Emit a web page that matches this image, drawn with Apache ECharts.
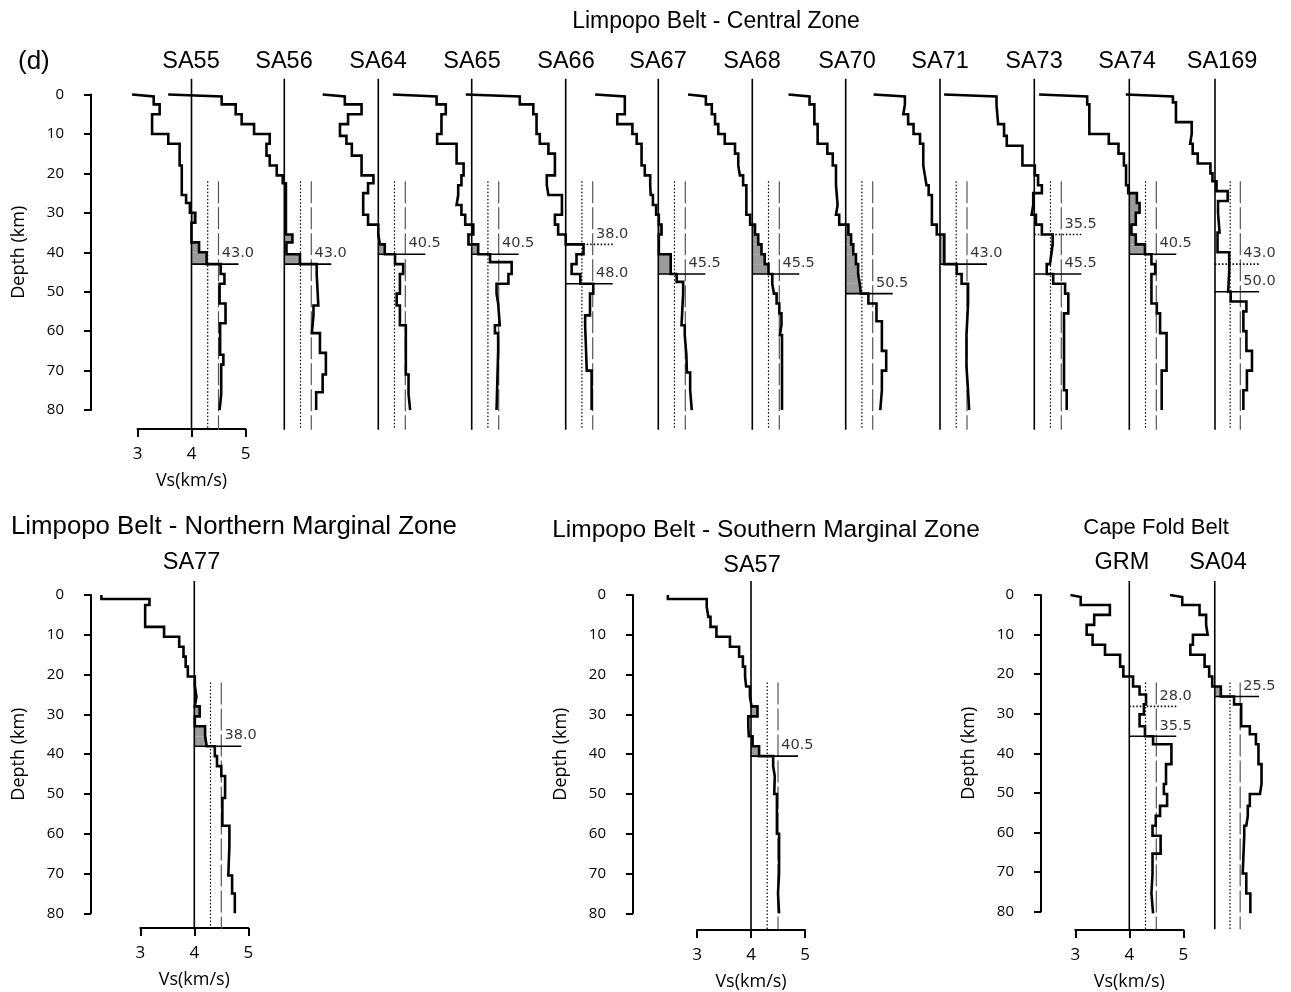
<!DOCTYPE html>
<html><head><meta charset="utf-8">
<script src="https://cdn.jsdelivr.net/npm/echarts@6/dist/echarts.min.js"></script>
<style>html,body{margin:0;padding:0;background:#fff}#c{width:1291px;height:992px}</style>
</head><body><div id="c"></div>
<script>
// ---------------- DATA ----------------
const topStations = ['SA55','SA56','SA64','SA65','SA66','SA67','SA68','SA70','SA71','SA73','SA74','SA169'];
const topMoho     = [43.0, 43.0, 40.5, 40.5, 48.0, 45.5, 45.5, 50.5, 43.0, 45.5, 40.5, 50.0];
const topAltMoho  = [null, null, null, null, 38.0, null, null, null, null, 35.5, null, 43.0];
const topShaded   = [true, true, true, true, false, true, true, true, true, false, true, false];
const botStations = ['SA77','SA57','GRM','SA04'];
const botMoho     = [38.0, 40.5, 35.5, 25.5];
const botAltMoho  = [null, null, 28.0, null];
const botShaded   = [true, true, false, true];
const vsTicks = [3, 4, 5];
const depthTicks = [0, 10, 20, 30, 40, 50, 60, 70, 80];
const refVs = 4.0, refDotted = 4.3, refDashed = 4.5;
// layer tops (km) and Vs (km/s); each layer continues to the next top, last one to 80 km
const SA55 = [[0,2.90],[0.5,3.30],[2.5,3.41],[5,3.27],[10,3.57],[12.5,3.78],[18,3.82],[25.5,3.90],[27.5,3.97],[30,4.07],[32.5,4.00],[37.5,4.14],[40,4.28],[43,4.54],[45.5,4.61],[48,4.52],[53,4.63],[58,4.53],[66,4.59],[68.5,4.55],[76,4.52]];
const SA56 = [[0,1.85],[0.5,2.84],[2.5,3.10],[5,3.21],[7.5,3.44],[10,3.73],[12.5,3.67],[15.5,3.73],[18,3.86],[20.5,3.97],[22.5,4.03],[35.5,4.15],[37.5,4.04],[40.5,4.29],[43,4.60],[45.5,4.63],[53.5,4.54],[56,4.51],[60.5,4.66],[65.5,4.77],[71,4.71],[75.5,4.59]];
const SA64 = [[0,2.97],[0.5,3.38],[2.5,3.69],[5,3.44],[7.5,3.29],[10.5,3.41],[12.5,3.51],[15.5,3.69],[20.5,3.91],[22.5,3.81],[25,3.72],[30.5,3.81],[33,4.00],[35.5,4.03],[38,4.12],[40.5,4.31],[43,4.46],[45.5,4.40],[50.5,4.34],[53.5,4.40],[58.5,4.51],[71,4.56],[76,4.59]];
const SA65 = [[0,2.54],[0.5,3.35],[2.5,3.52],[5,3.44],[10,3.36],[12.5,3.72],[17.5,3.85],[20.5,3.81],[23,3.75],[25.5,3.72],[28,3.81],[30.5,3.88],[33,4.03],[35.5,3.94],[38,4.12],[40.5,4.34],[42.5,4.74],[45.5,4.68],[48,4.46],[50.5,4.49],[53,4.52],[58.5,4.43],[60.5,4.49],[65,4.46]];
const SA66 = [[0,2.15],[0.5,3.15],[2.5,3.40],[5,3.46],[10,3.52],[12.5,3.68],[15,3.80],[20.5,3.65],[23,3.68],[25.5,3.93],[30.5,3.80],[33,3.86],[35.5,4.00],[38,4.33],[40.5,4.20],[43,4.11],[45.5,4.27],[48,4.51],[50.5,4.45],[56,4.36],[58.5,4.39],[70,4.48]];
const SA67 = [[0,2.83],[0.5,3.38],[5,3.24],[7.5,3.52],[10,3.60],[12.5,3.69],[18,3.75],[20.5,3.85],[23,3.86],[25.5,3.90],[28,3.96],[30.5,4.01],[33,4.06],[35.5,4.01],[40.5,4.23],[45.5,4.34],[47.5,4.46],[50.5,4.43],[58.5,4.49],[61,4.52],[66,4.53],[70.5,4.59],[75,4.62]];
const SA68 = [[0,2.81],[0.5,3.14],[2.5,3.25],[5,3.31],[7.5,3.37],[10,3.49],[12.5,3.68],[15,3.74],[18,3.77],[20.5,3.83],[23,3.89],[30.5,3.96],[33,4.05],[35.5,4.11],[38,4.17],[40.5,4.23],[43,4.30],[45.5,4.37],[48,4.40],[50.5,4.45],[53,4.50],[55.5,4.54],[58.5,4.51],[61,4.55]];
const SA70 = [[0,2.94],[0.5,3.33],[2.5,3.42],[7.5,3.48],[12.5,3.66],[15,3.76],[18,3.82],[23,3.85],[28,3.82],[30.5,3.88],[33,4.05],[35.5,4.10],[38,4.14],[40.5,4.19],[43,4.23],[45.5,4.26],[48,4.28],[50.5,4.42],[53,4.57],[57.5,4.67],[65,4.75],[70,4.67],[75,4.64]];
const SA71 = [[0,2.77],[0.5,3.35],[2.5,3.32],[5,3.41],[7.5,3.51],[10,3.63],[12.5,3.69],[18,3.72],[20.5,3.75],[23,3.79],[25.5,3.85],[33,3.94],[35.5,4.08],[43,4.31],[45.5,4.40],[48,4.52],[53,4.49],[61,4.49],[69,4.51],[73,4.54]];
const SA73 = [[0,2.33],[0.5,3.30],[2.5,3.33],[7.5,3.44],[10.5,3.49],[13,3.78],[18,4.01],[20.5,4.07],[23,4.14],[25,3.98],[28,3.95],[30.5,4.03],[33,4.14],[35.5,4.34],[38,4.32],[40,4.29],[43,4.23],[45.5,4.35],[48,4.57],[50.5,4.63],[55.5,4.55],[75,4.60]];
const SA74 = [[0,2.33],[0.5,3.22],[2.5,3.26],[10,3.62],[12.5,3.80],[15,3.90],[18,3.94],[23,3.98],[25,4.14],[27.5,4.19],[30,4.12],[33,4.04],[35.5,4.12],[38,4.29],[40.5,4.41],[43,4.48],[45.5,4.41],[53,4.51],[55.5,4.57],[60.5,4.69],[70,4.60]];
const SA169 = [[0,2.24],[0.5,3.17],[2,3.23],[7,3.54],[10,3.51],[12.5,3.56],[15,3.66],[17.5,3.91],[20,3.95],[22,4.03],[24.5,4.25],[27,4.06],[30,4.09],[35,4.05],[40,4.28],[45,4.26],[50,4.31],[52.5,4.62],[55,4.56],[60,4.62],[65,4.73],[70,4.63],[75,4.56]];
const SA77 = [[0,2.28],[1,3.17],[2.5,3.09],[8,3.44],[10.5,3.72],[13,3.80],[15.5,3.84],[18,3.88],[20.5,4.01],[23,4.04],[25.5,4.01],[28,4.10],[30.5,4.01],[33,4.20],[35.5,4.23],[38,4.38],[40.5,4.42],[43,4.50],[45.5,4.57],[51,4.52],[58,4.65],[63,4.63],[70.5,4.70],[75,4.75]];
const SA57 = [[0,2.46],[1,3.18],[3,3.21],[5.5,3.25],[8,3.36],[10.5,3.61],[13,3.78],[15.5,3.85],[18,3.89],[20.5,3.91],[23,3.98],[25.5,4.01],[28,4.12],[30.5,3.95],[33,3.96],[35.5,4.03],[38,4.15],[40.5,4.41],[43,4.44],[45.5,4.43],[50,4.48],[55.5,4.48],[60,4.52],[65,4.52],[70,4.50],[75,4.52]];
const GRM = [[0,2.91],[0.5,3.10],[2.5,3.64],[5,3.35],[7.5,3.21],[10,3.32],[12.5,3.55],[15,3.83],[18,3.89],[20.5,4.07],[23,4.19],[25,4.31],[27.5,4.27],[30,4.19],[33,4.29],[35.5,4.44],[37.5,4.78],[42.5,4.68],[47.5,4.64],[50,4.70],[53,4.57],[55.5,4.49],[58,4.43],[60.5,4.58],[65,4.43],[70,4.41],[75,4.44]];
const SA04 = [[0,3.12],[0.5,3.36],[2.5,3.70],[5,3.83],[7.5,3.86],[10,3.57],[12.5,3.52],[15,3.80],[18,3.89],[20.5,3.95],[23,4.12],[25.5,4.38],[27.5,4.52],[33,4.69],[35,4.81],[37.5,4.86],[42.5,4.92],[47.5,4.89],[50,4.69],[53,4.65],[55.5,4.62],[58,4.58],[60.5,4.55],[70,4.62],[75,4.70]];
const profiles = {SA55,SA56,SA64,SA65,SA66,SA67,SA68,SA70,SA71,SA73,SA74,SA169,SA77,SA57,GRM,SA04};

// ---------------- LAYOUT ----------------
const PX = 54;               // px per km/s
const XMIN = 1.5, XMAX = 5.5;
const ROW_TOP = {y0: 94.5, k: 3.944, dmin: -4, dmax: 85};
const ROW_BOT = {y0: 595, k: 3.979, dmin: -3.5, dmax: 84};
const topX4 = [191.5, 284.3, 378.3, 471.7, 565.7, 658.3, 752.3, 845.7, 940, 1034.3, 1129.3, 1223.3];
const botX4 = [194.3, 751, 1129.3, 1222.7];
const MAXD = 80, REF_TOP = 22, LINE_END = 4.87, LABEL_VS = 4.56;

const grid = [], xAxis = [], yAxis = [], series = [];
const FONT_T = 'Liberation Sans, Arial, sans-serif';

function stepPoints(layers){
  const pts = [];
  layers.forEach((l, i) => {
    const bot = i + 1 < layers.length ? layers[i+1][0] : MAXD;
    pts.push([l[1], l[0]], [l[1], bot]);
  });
  return pts;
}
function shadeRects(layers, moho){
  const out = [];
  layers.forEach((l, i) => {
    const bot = Math.min(i + 1 < layers.length ? layers[i+1][0] : MAXD, moho);
    if (l[1] > refVs && l[0] >= 18 && l[0] < moho) out.push([l[0], bot, l[1]]);
  });
  return out;
}
function line(gi, data, style, z){
  series.push({type:'line', xAxisIndex:gi, yAxisIndex:gi, data, symbol:'none', silent:true,
    clip:false, lineStyle:style, z, animation:false});
}
function addPanel(name, x4, row, moho, alt, shaded){
  const gi = grid.length;
  grid.push({left: x4 - (refVs - XMIN) * PX, width: (XMAX - XMIN) * PX,
             top: row.y0 + row.dmin * row.k, height: (row.dmax - row.dmin) * row.k});
  xAxis.push({gridIndex: gi, type:'value', min: XMIN, max: XMAX, show:false});
  yAxis.push({gridIndex: gi, type:'value', inverse:true, min: row.dmin, max: row.dmax, show:false});
  const layers = profiles[name];
  if (shaded){
    series.push({type:'custom', xAxisIndex:gi, yAxisIndex:gi, silent:true, z:1, animation:false,
      data: shadeRects(layers, moho),
      renderItem: (p, api) => {
        const a = api.coord([refVs, api.value(0)]);
        const b = api.coord([api.value(2), api.value(1)]);
        return {type:'rect', shape:{x:a[0], y:a[1], width:b[0]-a[0], height:b[1]-a[1]},
                style:{fill:'#9b9b9b'}};
      }});
  }
  line(gi, [[refVs, row.dmin], [refVs, row.dmax]], {color:'#000', width:1.6}, 2);
  line(gi, [[refDotted, REF_TOP], [refDotted, row.dmax]], {color:'#000', width:1.2, type:[1.5,2]}, 2);
  line(gi, [[refDashed, REF_TOP], [refDashed, row.dmax]], {color:'#555', width:1.2, type:[22,4]}, 2);
  line(gi, [[refVs, moho], [LINE_END, moho]], {color:'#000', width:1.6}, 3);
  const labels = [[LABEL_VS, moho]];
  if (alt != null){
    line(gi, [[refVs, alt], [LINE_END, alt]], {color:'#000', width:1.6, type:[1.5,2]}, 3);
    labels.push([LABEL_VS, alt]);
  }
  series.push({type:'scatter', xAxisIndex:gi, yAxisIndex:gi, symbolSize:0, silent:true, z:5,
    animation:false, data: labels,
    label:{show:true, position:[0,-3], align:'left', verticalAlign:'bottom',
      formatter: p => p.value[1].toFixed(1), color:'#000', fontSize:14.5, fontFamily:'DejaVu Sans'}});
  line(gi, stepPoints(layers), {color:'#000', width:2.6, join:'miter'}, 4);
}
topStations.forEach((s, i) => addPanel(s, topX4[i], ROW_TOP, topMoho[i], topAltMoho[i], topShaded[i]));
botStations.forEach((s, i) => addPanel(s, botX4[i], ROW_BOT, botMoho[i], botAltMoho[i], botShaded[i]));

// axis-only grids
function addAxes(x4, row, xAxisY, yAxisX){
  const gi = grid.length;
  const left = x4 - (refVs - vsTicks[0]) * PX;
  const top = row.y0, height = MAXD * row.k;
  grid.push({left, width: (vsTicks[2] - vsTicks[0]) * PX, top, height});
  xAxis.push({gridIndex: gi, type:'value', min: vsTicks[0], max: vsTicks[2], interval: 1,
    position:'bottom', offset: xAxisY - (top + height),
    axisLine:{show:true, onZero:false, lineStyle:{color:'#000', width:2}},
    axisTick:{show:true, length:8, lineStyle:{color:'#000', width:2}},
    splitLine:{show:false},
    axisLabel:{margin:17, fontSize:17, color:'#000', fontFamily:'Open Sans'},
    name:'Vs(km/s)', nameLocation:'middle', nameGap:43,
    nameTextStyle:{fontSize:18, color:'#000', fontFamily:'Open Sans'}});
  yAxis.push({gridIndex: gi, type:'value', inverse:true, min: depthTicks[0], max: depthTicks[depthTicks.length-1],
    interval: 10, position:'left', offset: left - yAxisX,
    axisLine:{show:true, onZero:false, lineStyle:{color:'#000', width:2}},
    axisTick:{show:true, length:7, lineStyle:{color:'#000', width:2}},
    splitLine:{show:false},
    axisLabel:{margin:27, fontSize:15, color:'#000', fontFamily:'Open Sans'},
    name:'Depth (km)', nameLocation:'middle', nameRotate:90, nameGap:63,
    nameTextStyle:{fontSize:18, color:'#000', fontFamily:'Open Sans'}});
  series.push({type:'scatter', xAxisIndex:gi, yAxisIndex:gi, data:[], silent:true});
}
addAxes(topX4[0], ROW_TOP, 429, 91);
addAxes(botX4[0], ROW_BOT, 928, 91);
addAxes(botX4[1], ROW_BOT, 930, 633);
addAxes(botX4[2], ROW_BOT, 931.7, 1041);

// titles
const texts = [
  ['Limpopo Belt - Central Zone', 716, 22, 'center', 23],
  ['(d)', 18, 62, 'left', 26],
  ['Limpopo Belt - Northern Marginal Zone', 11, 527, 'left', 25.8],
  ['Limpopo Belt - Southern Marginal Zone', 766, 530, 'center', 24.5],
  ['Cape Fold Belt', 1156, 528, 'center', 22],
];
const topNameX = [191, 284, 378, 472, 566, 658, 752, 847, 940, 1034, 1127, 1222];
topStations.forEach((s, i) => texts.push([s, topNameX[i], 62, 'center', 23.5]));
[[191.5, 563],[752, 566],[1122, 563],[1218, 563]].forEach((p, i) => texts.push([botStations[i], p[0], p[1], 'center', 23.5]));
const graphic = texts.map(t => ({type:'text', x:t[1], y:t[2], silent:true,
  style:{text:t[0], fill:'#000', font: `${t[4]}px ${FONT_T}`, fontSize:t[4], fontFamily:FONT_T,
         textAlign:t[3], textVerticalAlign:'middle', align:t[3], verticalAlign:'middle'}}));

const chart = echarts.init(document.getElementById('c'), null, {renderer:'canvas'});
chart.setOption({animation:false, backgroundColor:'#fff', grid, xAxis, yAxis, series, graphic});
</script></body></html>
